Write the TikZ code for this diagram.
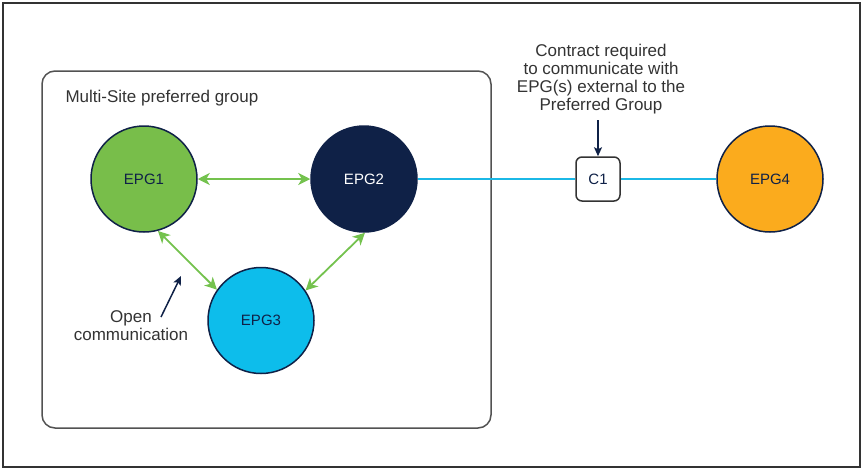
\documentclass[tikz,border=0pt]{standalone}
\usepackage{fontspec}
\setmainfont{Liberation Sans}
\usetikzlibrary{arrows.meta}
\definecolor{navy}{HTML}{0F2147}
\definecolor{epggreen}{HTML}{78BE4A}
\definecolor{epgcyan}{HTML}{0DBDEB}
\definecolor{epgorange}{HTML}{FBAB1D}
\definecolor{arrgreen}{HTML}{74C24E}
\definecolor{linecyan}{HTML}{1BB8E6}
\definecolor{txt}{HTML}{333333}
\tikzset{
  epg/.style={circle, minimum size=106pt, inner sep=0pt, draw=navy, line width=1.5pt, font=\fontsize{15pt}{17pt}\selectfont, text=navy},
  annot/.style={font=\fontsize{17pt}{18pt}\selectfont, text=txt, align=center},
  garrow/.style={draw=arrgreen, line width=1.8pt, {Stealth[length=12pt,width=12pt,inset=3.5pt]}-{Stealth[length=12pt,width=12pt,inset=3.5pt]}},
  narrow/.style={draw=navy, line width=1.5pt, -{Stealth[length=9pt,width=8pt,inset=2pt]}},
  cline/.style={draw=linecyan, line width=1.6pt},
}
\begin{document}
\begin{tikzpicture}[x=1pt,y=-1pt]
\useasboundingbox (0,0) rectangle (864,472);
\draw[draw=txt, line width=1.2pt] (3,3) rectangle (860,467);
\draw[draw=txt!85, line width=1.5pt, rounded corners=13pt] (42,71) rectangle (491,428);
\node[annot, anchor=west] (grp) at (62,98) {Multi-Site preferred group};
\node[epg, fill=epggreen] (e1) at (144,179) {EPG1};
\node[epg, fill=navy, text=white] (e2) at (364,179) {EPG2};
\node[epg, fill=epgcyan] (e3) at (261,320.5) {EPG3};
\node[epg, fill=epgorange] (e4) at (770,179) {EPG4};
\node[draw=txt, line width=1.5pt, rounded corners=6pt, fill=white, minimum size=44pt, inner sep=0pt, font=\fontsize{15pt}{17pt}\selectfont, text=navy] (c1) at (598,179) {C1};
\draw[cline] (e2) -- (c1);
\draw[cline] (c1) -- (e4);
\draw[garrow] (e1) -- (e2);
\draw[garrow] (e1.-75) -- (e3.145);
\draw[garrow] (e2.-89) -- (e3.34);
\node[annot] (ct) at (601,79) {Contract required\\to communicate with\\EPG(s) external to the\\Preferred Group};
\coordinate (ctb) at (598,120);
\draw[narrow] (ctb) -- (c1);
\node[annot] (oc) at (131,326) {Open\\communication};
\coordinate (ocs) at (161,317);
\coordinate (oce) at (181,276);
\draw[narrow] (ocs) -- (oce);
\end{tikzpicture}
\end{document}
